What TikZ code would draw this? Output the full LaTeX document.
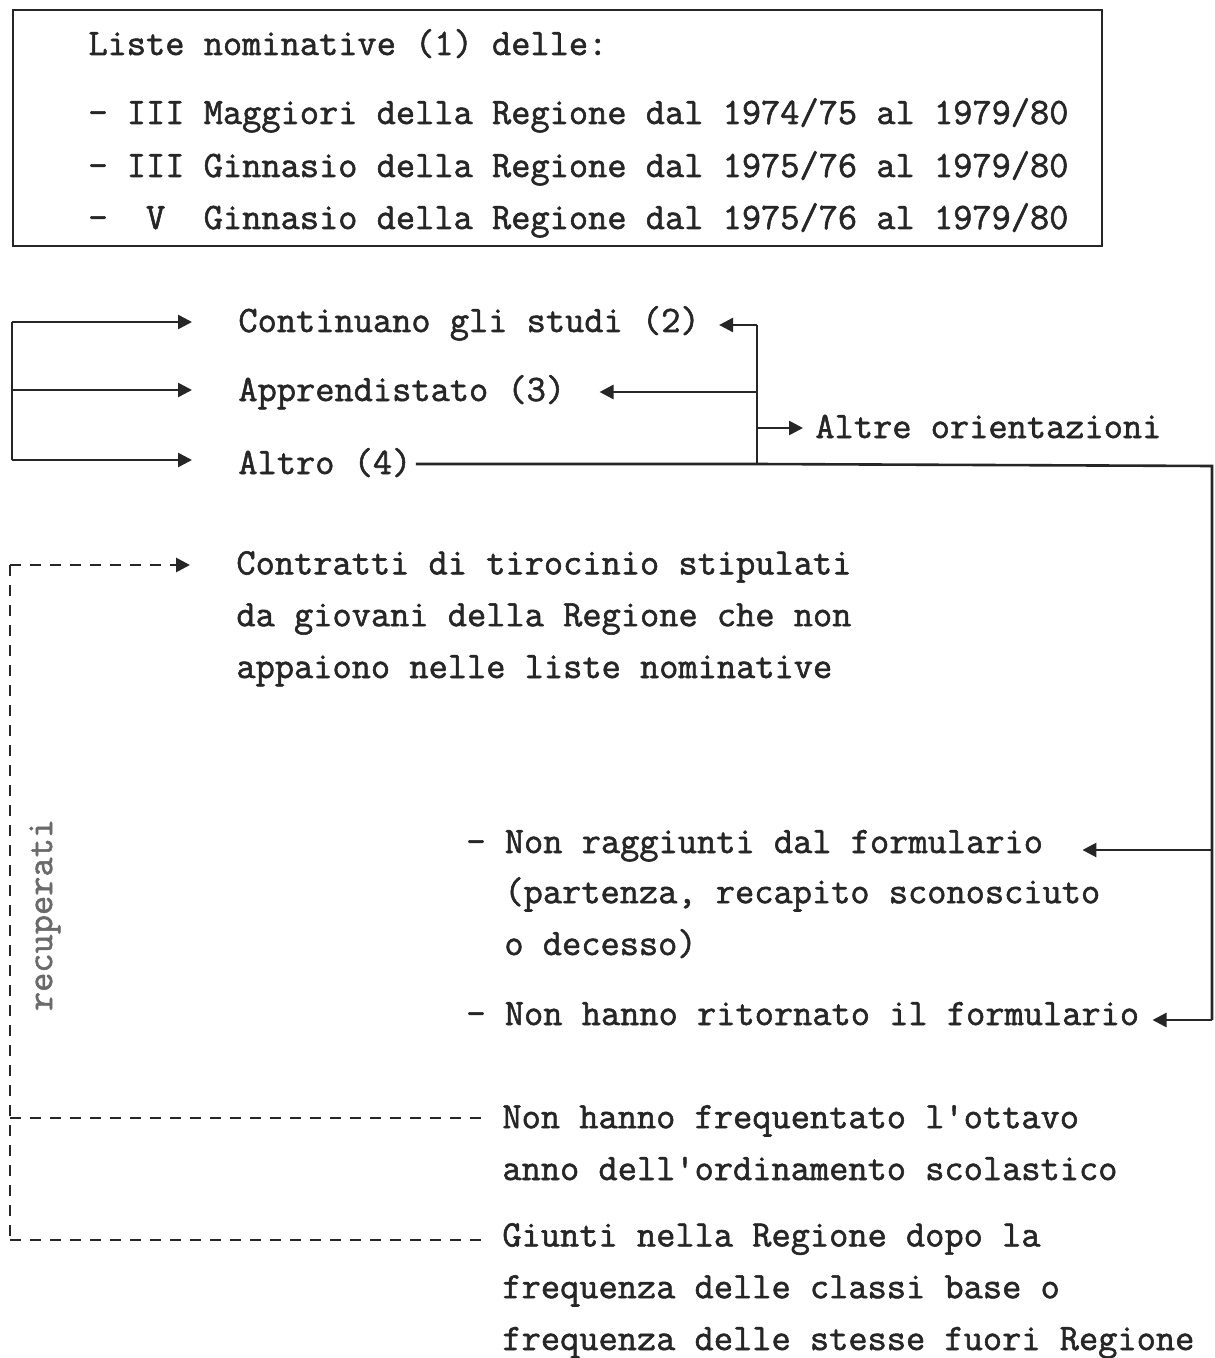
\documentclass[tikz,border=0pt]{standalone}
\usepackage{fontspec}
\newfontfamily\tw{Latin Modern Mono}[FakeBold=1.5]
\usetikzlibrary{arrows.meta}
\definecolor{ink}{HTML}{262626}
\definecolor{faint}{HTML}{6A6A6A}
\begin{document}
\begin{tikzpicture}[x=0.5pt,y=-0.5pt,
  txt/.style={anchor=base west, inner sep=0pt, align=left,
    font=\tw\fontsize{18.66pt}{25.9pt}\selectfont, text=ink},
  ln/.style={draw=ink, line width=1.3pt},
  dl/.style={draw=ink, line width=1.4pt, dash pattern=on 5.5pt off 4.5pt},
  arr/.style={-{Triangle[length=7pt,width=7pt]}}
]
\useasboundingbox[fill=white] (0,0) rectangle (1214,1358);

% header box
\draw[ln] (13,10) rectangle (1102,246);
\node[txt] (hdr) at (88,55) {Liste nominative (1) delle:};
\node[txt] (l1) at (88,124) {- III Maggiori della Regione dal 1974/75 al 1979/80};
\node[txt] (l2) at (88,177) {- III Ginnasio della Regione dal 1975/76 al 1979/80};
\node[txt] (l3) at (88,229) {-~~V~~Ginnasio della Regione dal 1975/76 al 1979/80};

% middle texts
\node[txt] (cont) at (238,332) {Continuano gli studi (2)};
\node[txt] (appr) at (238,401) {Apprendistato (3)};
\node[txt] (altro) at (238,474) {Altro (4)};
\node[txt] (altre) at (815,438) {Altre orientazioni};

% left bus
\coordinate (bL1) at (12,322);
\coordinate (bL2) at (12,390);
\coordinate (bL3) at (12,460);
\draw[ln] (bL1) -- (bL3);
\draw[ln,arr,shorten >=23pt] (bL1) -- (bL1 -| cont.west);
\draw[ln,arr,shorten >=23pt] (bL2) -- (bL2 -| appr.west);
\draw[ln,arr,shorten >=23pt] (bL3) -- (bL3 -| altro.west);

% right bus
\coordinate (vR1) at (757,325);
\coordinate (vR2) at (757,392);
\coordinate (vRA) at (757,428);
\coordinate (vR3) at (757,464);
\coordinate (rR1) at (1212,466);
\coordinate (rA) at (1212,850);
\coordinate (rB) at (1212,1020);
\draw[ln] (vR1) -- (vR3);
\draw[ln,shorten <=2pt] (altro.east |- vR3) -- (vR3) -- (rR1) -- (rB);
\draw[ln,arr,shorten >=9.5pt] (vR1) -- (vR1 -| cont.east);
\draw[ln,arr,shorten >=17pt] (vR2) -- (vR2 -| appr.east);
\draw[ln,arr,shorten >=6pt] (vRA) -- (vRA -| altre.west);

% not reached
\node[txt] (nr1) at (466,853) {- Non raggiunti dal formulario};
\node[txt] (nr2) at (504,955) {(partenza, recapito sconosciuto\\o decesso)};
\node[txt] (nh) at (466,1025) {- Non hanno ritornato il formulario};
\draw[ln,arr,shorten >=19.5pt] (rA) -- (rA -| nr1.east);
\draw[ln,arr,shorten >=6.5pt] (rB) -- (rB -| nh.east);

% dashed recovered
\node[txt] (contr) at (236,678) {Contratti di tirocinio stipulati\\da giovani della Regione che non\\appaiono nelle liste nominative};
\node[txt] (nf) at (502,1180) {Non hanno frequentato l'ottavo\\anno dell'ordinamento scolastico};
\node[txt] (gi) at (502,1350) {Giunti nella Regione dopo la\\frequenza delle classi base o\\frequenza delle stesse fuori Regione};
\coordinate (dT) at (10,565);
\coordinate (dM) at (10,1118);
\coordinate (dB) at (10,1240);
\draw[dl] (dT) -- (dB);
\draw[dl,arr,shorten >=23pt] (dT) -- (dT -| contr.west);
\draw[dl,shorten >=8.5pt] (dM) -- (dM -| nf.west);
\draw[dl,shorten >=8.5pt] (dB) -- (dB -| gi.west);
\node[txt, anchor=center, rotate=90, text=faint] (rec) at (45,915) {recuperati};
\end{tikzpicture}
\end{document}
